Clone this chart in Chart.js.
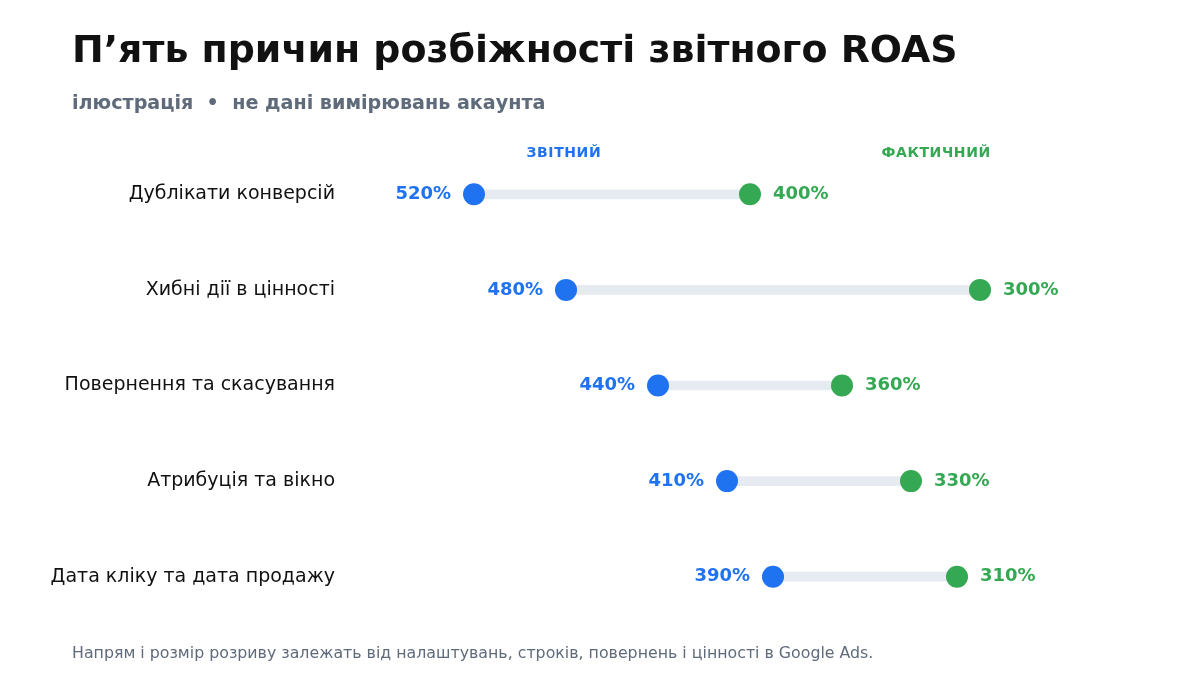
<!DOCTYPE html>
<html>
<head>
<meta charset="utf-8">
<script src="https://cdn.jsdelivr.net/npm/chart.js@4"></script>
<style>
  html, body { margin: 0; padding: 0; background: #fff; }
  body { width: 1200px; height: 700px; position: relative; overflow: hidden; font-family: "DejaVu Sans", sans-serif; }
  #title { position: absolute; left: 72px; top: 27px; font-size: 37.9px; font-weight: bold; color: #111; white-space: nowrap; }
  #subtitle { position: absolute; left: 72px; top: 91px; font-size: 19.15px; font-weight: bold; color: #5f6b7a; white-space: pre; }
  #note { position: absolute; left: 72px; top: 643px; font-size: 15.8px; color: #5f6b7a; white-space: nowrap; }
  #wrap { position: absolute; left: 0; top: 0; width: 1200px; height: 700px; }
</style>
</head>
<body>
<div id="wrap"><canvas id="myChart"></canvas></div>
<div id="title">П’ять причин розбіжності звітного ROAS</div>
<div id="subtitle">ілюстрація  •  не дані вимірювань акаунта</div>
<div id="note">Напрям і розмір розриву залежать від налаштувань, строків, повернень і цінності в Google Ads.</div>
<script>
// Categories (top to bottom)
var reasons = ['Дублікати конверсій', 'Хибні дії в цінності', 'Повернення та скасування', 'Атрибуція та вікно', 'Дата кліку та дата продажу'];
// ROAS, %
var reported = [520, 480, 440, 410, 390];
var actual = [400, 300, 360, 330, 310];
var seriesNames = ['ЗВІТНИЙ', 'ФАКТИЧНИЙ'];

var blue = '#1f72f0';
var green = '#34a853';

var valueLabels = {
  id: 'valueLabels',
  afterDatasetsDraw: function(chart) {
    var ctx = chart.ctx;
    ctx.save();
    ctx.font = 'bold 18px "DejaVu Sans"';
    ctx.textBaseline = 'middle';
    chart.getDatasetMeta(1).data.forEach(function(pt, i) {
      ctx.fillStyle = blue;
      ctx.textAlign = 'right';
      ctx.fillText(reported[i] + '%', pt.x - 23, pt.y);
    });
    chart.getDatasetMeta(2).data.forEach(function(pt, i) {
      ctx.fillStyle = green;
      ctx.textAlign = 'left';
      ctx.fillText(actual[i] + '%', pt.x + 23, pt.y);
    });
    // column headers
    var a = chart.chartArea;
    ctx.font = 'bold 14px "DejaVu Sans"';
    ctx.letterSpacing = '0.6px';
    ctx.textAlign = 'center';
    ctx.fillStyle = blue;
    ctx.fillText(seriesNames[0], a.left + (a.right - a.left) * 0.262, 153);
    ctx.fillStyle = green;
    ctx.fillText(seriesNames[1], a.left + (a.right - a.left) * 0.738, 153);
    ctx.restore();
  }
};

var ctx = document.getElementById('myChart');
var myChart = new Chart(ctx, {
  data: {
    labels: reasons,
    datasets: [
      {
        type: 'bar',
        data: reasons.map(function(r, i) { return [actual[i], reported[i]]; }),
        backgroundColor: '#e6eaf1',
        barThickness: 9,
        borderSkipped: false,
        order: 2
      },
      {
        type: 'line',
        label: seriesNames[0],
        data: reasons.map(function(r, i) { return { x: reported[i], y: r }; }),
        showLine: false,
        pointRadius: 11,
        pointHoverRadius: 11,
        pointBackgroundColor: blue,
        pointBorderWidth: 0,
        order: 1
      },
      {
        type: 'line',
        label: seriesNames[1],
        data: reasons.map(function(r, i) { return { x: actual[i], y: r }; }),
        showLine: false,
        pointRadius: 11,
        pointHoverRadius: 11,
        pointBackgroundColor: green,
        pointBorderWidth: 0,
        order: 1
      }
    ]
  },
  options: {
    indexAxis: 'y',
    responsive: true,
    maintainAspectRatio: false,
    animation: false,
    layout: { padding: { top: 146.5, bottom: 75.5, left: 0, right: 59 } },
    plugins: { legend: { display: false }, tooltip: { enabled: false } },
    scales: {
      x: {
        type: 'linear',
        min: 230,
        max: 570,
        reverse: true,
        display: false
      },
      y: {
        type: 'category',
        offset: true,
        grid: { display: false, drawTicks: false },
        border: { display: false },
        ticks: { color: '#111', font: { family: 'DejaVu Sans', size: 19 }, padding: 24 },
        afterFit: function(scale) { scale.width = 359; }
      }
    }
  },
  plugins: [valueLabels]
});
</script>
</body>
</html>
